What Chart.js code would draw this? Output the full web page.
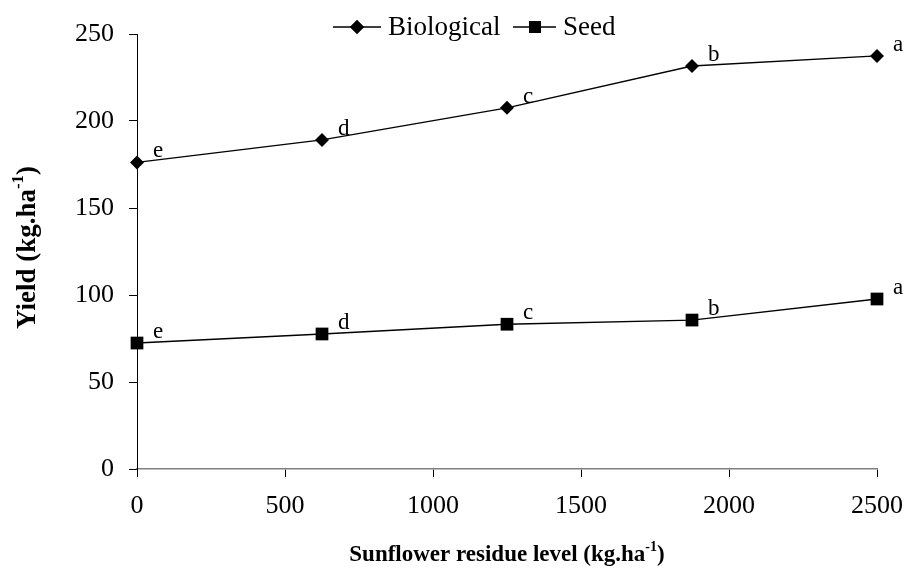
<!DOCTYPE html>
<html>
<head>
<meta charset="utf-8">
<script src="https://cdn.jsdelivr.net/npm/chart.js@4.4.0/dist/chart.umd.min.js"></script>
<style>
  html, body { margin: 0; padding: 0; background: #fff; }
  canvas { display: block; }
</style>
</head>
<body>
<canvas id="chart" width="906" height="570"></canvas>
<script>
// residue levels (kg/ha)
var residue = [0, 625, 1250, 1875, 2500];
var biological = [176.2, 189.1, 207.6, 231.6, 237.4];
var seed = [72.4, 77.6, 83.2, 85.6, 97.7];
var bioLetters = ['e', 'd', 'c', 'b', 'a'];
var seedLetters = ['e', 'd', 'c', 'b', 'a'];
var yTicks = [0, 50, 100, 150, 200, 250];
var xTicks = [0, 500, 1000, 1500, 2000, 2500];

var SERIF = '"Liberation Serif", "Times New Roman", serif';

function pts(xs, ys) {
    return xs.map(function (x, i) { return { x: x, y: ys[i] }; });
}

// letters beside each point + axis titles + legend
var extras = {
    id: 'extras',
    afterDraw: function (chart) {
        var ctx = chart.ctx;
        var area = chart.chartArea;
        ctx.save();
        ctx.fillStyle = '#000';
        ctx.font = '23px ' + SERIF;
        ctx.textAlign = 'left';
        ctx.textBaseline = 'alphabetic';
        [bioLetters, seedLetters].forEach(function (letters, d) {
            chart.getDatasetMeta(d).data.forEach(function (p, i) {
                ctx.fillText(letters[i], p.x + 16, p.y - 5);
            });
        });

        // x title
        drawSup(ctx, 23, 'Sunflower residue level (kg.ha', '-1', ')', (area.left + area.right) / 2, 561);

        // y title
        ctx.save();
        ctx.translate(35, (area.top + area.bottom) / 2 - 4);
        ctx.rotate(-Math.PI / 2);
        drawSup(ctx, 27, 'Yield (kg.ha', '-1', ')', 0, 0);
        ctx.restore();

        // legend
        var ly = 27;
        ctx.strokeStyle = '#000';
        ctx.lineWidth = 1.3;
        ctx.beginPath();
        ctx.moveTo(333, ly); ctx.lineTo(381, ly);
        ctx.moveTo(513, ly); ctx.lineTo(556, ly);
        ctx.stroke();
        Chart.helpers.drawPoint(ctx, { pointStyle: 'rectRot', radius: 7, rotation: 0, borderWidth: 0 }, 357, ly);
        ctx.fill();
        ctx.fillRect(529, ly - 6, 12, 12);
        ctx.font = '27px ' + SERIF;
        ctx.textAlign = 'left';
        ctx.textBaseline = 'middle';
        ctx.fillText('Biological', 388, ly + 1);
        ctx.fillText('Seed', 563, ly + 1);
        ctx.restore();
    }
};

function drawSup(ctx, size, main, sup, tail, cx, y) {
    var big = 'bold ' + size + 'px ' + SERIF;
    var small = 'bold ' + Math.round(size * 0.62) + 'px ' + SERIF;
    ctx.font = big;
    var wMain = ctx.measureText(main).width;
    var wTail = ctx.measureText(tail).width;
    ctx.font = small;
    var wSup = ctx.measureText(sup).width;
    var x = cx - (wMain + wSup + wTail) / 2;
    ctx.textAlign = 'left';
    ctx.textBaseline = 'alphabetic';
    ctx.font = big;
    ctx.fillText(main, x, y);
    ctx.font = small;
    ctx.fillText(sup, x + wMain, y - size * 0.45);
    ctx.font = big;
    ctx.fillText(tail, x + wMain + wSup, y);
}

new Chart(document.getElementById('chart'), {
    type: 'scatter',
    data: {
        datasets: [{
            label: 'Biological',
            data: pts(residue, biological),
            showLine: true,
            clip: false,
            borderColor: '#000',
            backgroundColor: '#000',
            borderWidth: 1.3,
            pointStyle: 'rectRot',
            pointRadius: 7,
            pointBorderWidth: 0,
            tension: 0
        }, {
            label: 'Seed',
            data: pts(residue, seed),
            showLine: true,
            clip: false,
            borderColor: '#000',
            backgroundColor: '#000',
            borderWidth: 1.3,
            pointStyle: 'rect',
            pointRadius: 9,
            pointBorderWidth: 0,
            tension: 0
        }]
    },
    options: {
        responsive: false,
        animation: false,
        layout: { autoPadding: false, padding: { left: 0, right: 29, top: 34, bottom: 0 } },
        plugins: {
            legend: { display: false },
            tooltip: { enabled: false }
        },
        scales: {
            x: {
                type: 'linear',
                min: 0,
                max: 2500,
                afterBuildTicks: function (s) { s.ticks = xTicks.map(function (v) { return { value: v }; }); },
                afterFit: function (s) { s.height = 101; s.paddingLeft = 0; s.paddingRight = 0; },
                border: { color: '#808080', width: 1.5 },
                grid: { drawOnChartArea: false, drawTicks: true, tickLength: 8, color: '#000' },
                ticks: {
                    color: '#000', font: { family: SERIF, size: 26 }, padding: 14, maxRotation: 0,
                    callback: function (v) { return String(v); }
                }
            },
            y: {
                min: 0,
                max: 250,
                afterBuildTicks: function (s) { s.ticks = yTicks.map(function (v) { return { value: v }; }); },
                afterFit: function (s) { s.width = 137; s.paddingTop = 0; s.paddingBottom = 0; },
                border: { color: '#000', width: 1 },
                grid: { drawOnChartArea: false, drawTicks: true, tickLength: 8, color: '#000' },
                ticks: {
                    color: '#000', font: { family: SERIF, size: 26 }, padding: 15,
                    callback: function (v) { return String(v); }
                }
            }
        }
    },
    plugins: [extras]
});
</script>
</body>
</html>
